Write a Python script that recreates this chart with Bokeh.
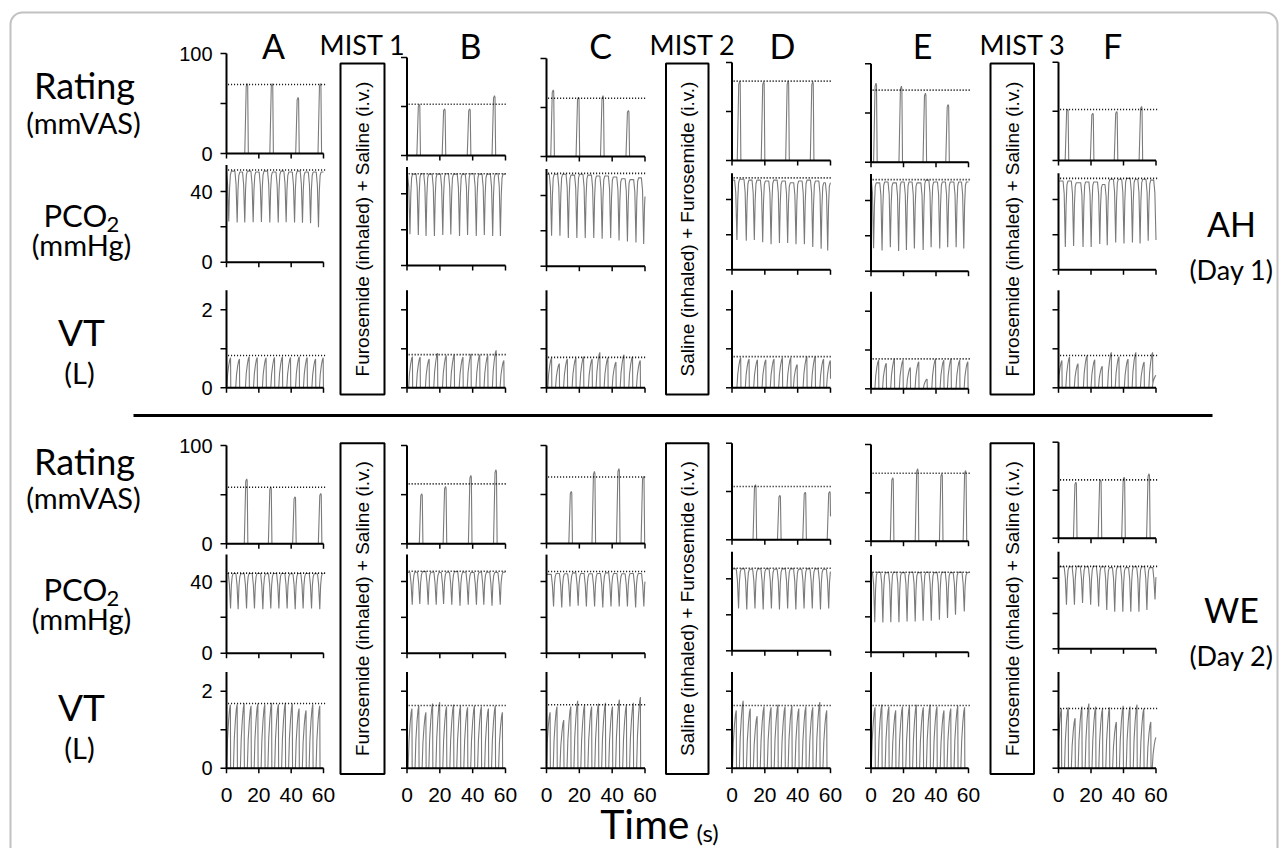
import numpy as np
from bokeh.plotting import figure
from bokeh.models import Range1d, BoxAnnotation
from bokeh.core.properties import value
from bokeh.embed import file_html
from bokeh.resources import INLINE

# ---------------- data ----------------
columns = ["A", "B", "C", "D", "E", "F"]
x_ticks = [0, 20, 40, 60]
x_tick_labels = ["0", "20", "40", "60"]
rating_ticks = [0, 50, 100]
rating_labels = ["0", "", "100"]
pco2_ticks = [0, 20, 40]
pco2_labels = ["0", "", "40"]
vt_ticks = [0, 1, 2]
vt_labels = ["0", "", "2"]

# Rating (mmVAS): peak times (s) and peak values, dotted reference level
ah_rating_t = {"A": [12.8, 28.3, 44.3, 58.1], "B": [7.5, 22.9, 38.2, 53.3], "C": [4.1, 19.5, 34.4, 49.9],
               "D": [4.7, 19.3, 34.2, 49.2], "E": [3.1, 18.7, 33.5, 47.5], "F": [5.6, 21.1, 35.8, 51.1]}
ah_rating_v = {"A": [70, 70, 56, 70], "B": [52, 47.6, 47.6, 61], "C": [68, 60.5, 62, 47],
               "D": [81, 80.5, 81, 80.5], "E": [80.3, 77.2, 70.1, 58.6], "F": [52.2, 48.1, 49.8, 54.9]}
ah_rating_ref = {"A": 69, "B": 52.3, "C": 59.5, "D": 81, "E": 73.2, "F": 51.9}
we_rating_t = {"A": [12.5, 27.4, 42.4, 58.3], "B": [9.0, 23.5, 38.9, 54.2], "C": [15.1, 29.2, 44.1, 59.1],
               "D": [14.3, 29.2, 44.6, 59.5], "E": [13.4, 28.7, 43.6, 58.2], "F": [10.7, 25.9, 40.4, 55.7]}
we_rating_v = {"A": [66, 57.6, 47.8, 51.2], "B": [50.8, 58.3, 69.5, 75.3], "C": [53.2, 73.5, 76.3, 68.5],
               "D": [57, 46, 49.3, 50], "E": [65.6, 74.9, 69.7, 73.1], "F": [58.3, 60.8, 63.5, 67.1]}
we_rating_ref = {"A": 57.6, "B": 61, "C": 67.8, "D": 55.2, "E": 70.3, "F": 60.8}

# PCO2 (mmHg): trough times, trough values, plateau values (one before each trough + last)
ah_pco2_t = {"A": [1.4, 6.6, 11.3, 16.5, 21.6, 26.8, 32.0, 36.9, 42.1, 47.0, 52.0, 56.9],
             "B": [1.8, 6.9, 11.6, 16.7, 21.8, 26.7, 32.0, 36.9, 42.2, 47.1, 52.2, 56.9],
             "C": [3.1, 8.2, 13.3, 18.5, 23.6, 28.8, 33.9, 39.1, 44.2, 49.3, 54.5, 59.2],
             "D": [3.0, 8.7, 13.6, 18.7, 23.8, 28.9, 33.9, 39.0, 44.1, 49.2, 54.3, 58.3],
             "E": [1.6, 6.8, 11.9, 17.0, 21.8, 26.7, 32.1, 37.0, 42.3, 47.2, 52.4, 57.1],
             "F": [4.2, 9.3, 15.1, 20.1, 25.4, 30.0, 35.2, 40.3, 45.5, 50.2, 55.2, 60.0]}
ah_pco2_low = {"A": [23, 22.5, 22.5, 22.6, 22.8, 22.5, 22.5, 22.6, 22.5, 22.3, 22.0, 19.8],
               "B": [17.5, 17, 16.5, 16.5, 17, 17.3, 16.5, 17, 16.5, 17, 16.5, 16.5],
               "C": [17.3, 17.3, 16, 16, 16, 16, 15.5, 16, 14.5, 14, 13.4, 12.6],
               "D": [17, 16.6, 17, 15.7, 14.5, 15.2, 15.2, 14.5, 14.5, 13, 12, 11],
               "E": [13, 11.7, 13.5, 11.5, 12, 12.8, 12, 13.5, 12.8, 13.5, 13.5, 12.8],
               "F": [13, 13.5, 13, 13, 14.7, 14, 15.5, 15, 15.5, 15, 16.6, 17]}
ah_pco2_high = {"A": [51, 51.5, 51, 51.5, 51, 51.5, 51, 51.5, 51, 51.5, 51, 51, 51],
                "B": [50.5, 51, 51.2, 51, 51, 51.2, 51, 51, 51.2, 51, 51, 51.2, 51],
                "C": [52, 52, 52, 51.5, 52, 51.5, 51, 51, 50.5, 49.5, 49, 50, 45],
                "D": [51, 51.5, 51, 51, 50.5, 51, 50.5, 49.5, 50.5, 51, 50.5, 49.5, 49.5],
                "E": [51.5, 50, 50.5, 50, 50.5, 50.5, 50, 51.5, 50.5, 50.5, 50.5, 50.5, 50.5],
                "F": [50.5, 50.5, 49.5, 50, 50, 48.5, 51.5, 51.5, 52, 51.5, 51.5, 51, 51]}
ah_pco2_ref = {"A": 52.2, "B": 51.2, "C": 52.5, "D": 52.3, "E": 51.8, "F": 52}
we_pco2_t = {"A": [2.5, 7.2, 12.4, 17.3, 22.5, 27.4, 32.4, 37.5, 42.5, 47.4, 52.6, 57.7],
             "B": [3.2, 7.8, 12.9, 17.8, 22.3, 27.3, 32.3, 37.3, 42.3, 46.8, 51.8, 56.8],
             "C": [4.3, 9.3, 14.3, 19.3, 24.3, 29.3, 34.3, 39.3, 44.3, 49.3, 54.3, 59.3],
             "D": [4.0, 9.0, 14.0, 19.0, 24.0, 28.9, 33.9, 38.9, 43.9, 48.9, 53.9, 58.9],
             "E": [2.3, 7.3, 12.2, 17.2, 22.2, 27.2, 32.1, 37.1, 42.1, 47.1, 52.0, 57.4],
             "F": [4.9, 9.8, 14.8, 19.8, 24.7, 29.7, 34.6, 39.6, 44.5, 49.5, 54.4, 59.4]}
we_pco2_low = {"A": [25, 24.5, 25, 25, 24.5, 25, 25, 25, 24.5, 25, 25, 24.5],
               "B": [27, 27.5, 27, 27, 27.5, 27, 26.5, 27, 27, 27, 26.5, 27],
               "C": [26, 25.5, 26, 26.5, 26, 26, 25.5, 26, 26, 26, 25.5, 26],
               "D": [23.5, 23, 23.5, 23, 23.5, 23, 23.5, 23, 23.5, 23.5, 23, 23.5],
               "E": [17, 16.8, 17, 17, 17.4, 17.4, 17.8, 17.8, 18.4, 19.3, 21.2, 23.1],
               "F": [25, 25, 26, 25, 24, 22, 21, 21, 21, 21, 22, 28]}
we_pco2_high = {"A": [44.5, 44.5, 44.3, 44.5, 44.5, 44.3, 44.5, 44.5, 44.3, 44.5, 44.5, 44.3, 44.5],
                "B": [45, 45.2, 45.5, 45.2, 45, 45.2, 45.5, 45.2, 45, 45.2, 45.2, 45, 45.2],
                "C": [44, 44.5, 44.3, 44.8, 44.5, 44.3, 44.5, 44.8, 44.5, 44.3, 44.5, 44.5, 44.5],
                "D": [45.5, 45.5, 45.3, 45.5, 45.5, 45.3, 45.5, 45.5, 45.3, 45.5, 45.5, 45.3, 45.5],
                "E": [45, 45.2, 45, 45.2, 45, 45.2, 45, 45.2, 45, 45.2, 45, 45.2, 45],
                "F": [46.5, 46.5, 46.8, 46.5, 46.8, 46.5, 46, 46.5, 46, 46.5, 46.5, 46, 46]}
we_pco2_ref = {"A": 44.7, "B": 45.7, "C": 45.6, "D": 45.9, "E": 45.2, "F": 46.7}

# VT (L): end-inspiratory peak times and tidal volumes, dotted reference level
ah_vt_t = {"A": [2.5, 8.0, 14.0, 19.0, 24.5, 29.7, 34.6, 39.6, 45.0, 49.9, 55.1, 59.8],
           "B": [3.3, 8.0, 13.5, 18.6, 23.9, 28.8, 34.1, 39.0, 44.3, 49.2, 54.3, 59.0],
           "C": [3.1, 7.8, 12.7, 17.9, 22.6, 27.8, 32.5, 37.4, 42.3, 47.2, 52.4, 57.1],
           "D": [5.3, 10.4, 15.5, 20.6, 25.6, 30.7, 35.8, 39.7, 45.6, 50.7, 55.8, 59.9],
           "E": [4.7, 9.4, 14.4, 19.7, 24.2, 29.4, 34.5, 39.7, 44.8, 49.3, 54.6, 59.6],
           "F": [2.1, 6.8, 12.0, 17.6, 22.3, 26.9, 32.5, 37.2, 42.8, 47.6, 52.7, 57.9, 60.0]}
ah_vt_v = {"A": [0.77, 0.74, 0.80, 0.78, 0.77, 0.78, 0.80, 0.78, 0.80, 0.78, 0.74, 0.77],
           "B": [0.80, 0.79, 0.74, 0.89, 0.83, 0.85, 0.79, 0.87, 0.85, 0.83, 0.96, 0.70],
           "C": [0.77, 0.62, 0.74, 0.77, 0.80, 0.74, 0.91, 0.77, 0.66, 0.85, 0.80, 0.70],
           "D": [0.77, 0.74, 0.72, 0.72, 0.74, 0.77, 0.77, 0.60, 0.80, 0.80, 0.74, 0.70],
           "E": [0.74, 0.66, 0.77, 0.74, 0.55, 0.70, 0.25, 0.77, 0.74, 0.77, 0.74, 0.70],
           "F": [0.70, 0.79, 0.62, 0.83, 0.72, 0.55, 0.91, 0.80, 0.74, 0.91, 0.66, 0.91, 0.32]}
ah_vt_ref = {"A": 0.83, "B": 0.85, "C": 0.78, "D": 0.80, "E": 0.77, "F": 0.83}
we_vt_t = {"A": [2.4, 6.6, 10.9, 15.2, 19.4, 23.7, 27.9, 32.1, 36.4, 40.7, 44.9, 49.2, 53.4, 57.7],
           "B": [3.0, 7.2, 11.5, 15.6, 19.9, 24.1, 28.4, 32.6, 36.9, 41.1, 45.3, 49.6, 53.8, 58.1],
           "C": [2.2, 6.4, 10.5, 14.8, 19.0, 23.2, 27.5, 31.7, 35.9, 40.2, 44.4, 48.7, 52.9, 57.2],
           "D": [2.6, 6.8, 11.1, 15.3, 19.5, 23.8, 28.0, 32.3, 36.5, 40.7, 45.0, 49.2, 53.5, 57.7],
           "E": [2.5, 6.7, 11.0, 15.2, 19.4, 23.7, 27.9, 32.2, 36.4, 40.6, 44.9, 49.1, 53.4, 57.6],
           "F": [1.8, 6.0, 10.2, 14.4, 18.7, 22.9, 27.1, 31.4, 35.6, 39.8, 44.0, 48.3, 52.5, 56.8, 60.0]}
we_vt_v = {"A": [1.65, 1.66, 1.68, 1.62, 1.68, 1.66, 1.70, 1.66, 1.70, 1.68, 1.55, 1.50, 1.66, 1.62],
           "B": [1.55, 1.62, 1.45, 1.68, 1.72, 1.60, 1.65, 1.62, 1.58, 1.62, 1.60, 1.55, 1.62, 1.45],
           "C": [1.45, 1.60, 1.25, 1.60, 1.75, 1.65, 1.60, 1.68, 1.70, 1.60, 1.78, 1.65, 1.70, 1.85],
           "D": [1.50, 1.75, 1.55, 1.35, 1.60, 1.58, 1.65, 1.60, 1.62, 1.55, 1.60, 1.58, 1.72, 1.50],
           "E": [1.58, 1.65, 1.60, 1.50, 1.60, 1.62, 1.65, 1.58, 1.65, 1.60, 1.50, 1.55, 1.62, 1.58],
           "F": [1.55, 1.58, 1.30, 1.60, 1.68, 1.60, 1.55, 1.58, 1.20, 1.62, 1.60, 1.65, 1.55, 1.20, 0.8]}
we_vt_ref = {"A": 1.68, "B": 1.63, "C": 1.65, "D": 1.63, "E": 1.63, "F": 1.55}

mist_titles = ["MIST 1", "MIST 2", "MIST 3"]
mist_box_texts = ["Furosemide (inhaled) + Saline (i.v.)",
                  "Saline (inhaled) + Furosemide (i.v.)",
                  "Furosemide (inhaled) + Saline (i.v.)"]

# ---------------- layout (pixel geometry of the page) ----------------
W, H = 1286, 848
col_x = {"A": (226, 323), "B": (406.5, 505), "C": (546, 644.5), "D": (731.5, 830),
         "E": (870.5, 968), "F": (1058, 1155.5)}
row_geom = {
    ("AH", "rating"): {"A": (153, 53), "B": (155, 57), "C": (156, 58), "D": (160, 62), "E": (161.7, 63.3), "F": (160, 61.7)},
    ("AH", "pco2"): {"A": (261.7, 191), "B": (265, 193.3), "C": (265.7, 195), "D": (269.3, 199), "E": (270.7, 200), "F": (269.3, 199)},
    ("AH", "vt"): {"A": (387.3, 309.3), "B": (387.3, 309.3), "C": (387.3, 309.3), "D": (387.3, 309.3), "E": (388.3, 310.7), "F": (387.3, 309.3)},
    ("WE", "rating"): {"A": (543.3, 445), "B": (543.3, 445), "C": (543, 445), "D": (539.3, 442.7), "E": (540.7, 444), "F": (537.7, 441.7)},
    ("WE", "pco2"): {"A": (652.7, 581), "B": (652.7, 581), "C": (652.7, 581), "D": (650.3, 578.3), "E": (651.7, 581), "F": (648.3, 577.7)},
    ("WE", "vt"): {c: (767.7, 690.7) for c in columns},
}
row_ref = {"rating": 100, "pco2": 40, "vt": 2}
row_top = {"rating": 100, "pco2": 55, "vt": 2.5}
row_ticks = {"rating": (rating_ticks, rating_labels), "pco2": (pco2_ticks, pco2_labels), "vt": (vt_ticks, vt_labels)}

TRACE = "#7a7a7a"
LABEL_FONT = "Lato"
TICK_FONT = "Liberation Sans"

p = figure(width=W, height=H, x_range=Range1d(0, W), y_range=Range1d(H, 0),
           x_axis_type=None, y_axis_type=None, toolbar_location=None,
           output_backend="svg", min_border=0, outline_line_color=None)
p.background_fill_color = "white"


def clip(xs, ys):
    xs = np.asarray(xs, float)
    ys = np.asarray(ys, float)
    x_out = [0.0] + [x for x in xs if 0 < x < 60] + [60.0]
    return x_out, list(np.interp(x_out, xs, ys))


def rating_trace(times, peaks):
    xs, ys = [-5], [0]
    for t, v in zip(times, peaks):
        xs += [t - 1.5, t - 0.6, t, t + 0.3, t + 0.7]
        ys += [0, 0.96 * v, v, 0.97 * v, 0]
    xs.append(65); ys.append(0)
    return clip(xs, ys)


def pco2_trace(troughs, lows, highs):
    xs, ys = [-5], [highs[0]]
    for i, (t, v) in enumerate(zip(troughs, lows)):
        h0, h1 = highs[i], highs[i + 1]
        xs += [t - 1.4, t - 0.7, t, t + 0.5, t + 1.0, t + 1.6]
        ys += [h0, 0.86 * h0, v, v + 0.65 * (h1 - v), 0.96 * h1, h1]
    xs.append(65); ys.append(highs[-1])
    return clip(xs, ys)


def vt_trace(times, peaks):
    xs, ys = [-5], [0]
    for t, v in zip(times, peaks):
        xs += [t - 2.3, t - 1.8, t - 1.1, t - 0.5, t, t + 0.15]
        ys += [0, 0.45 * v, 0.75 * v, 0.93 * v, v, 0]
    xs.append(65); ys.append(0)
    return clip(xs, ys)


def draw_panel(half, row, col, xs, ys, ref):
    x0, x1 = col_x[col]
    y0, yr = row_geom[(half, row)][col]
    sp = p.subplot(x_source=Range1d(0, 60), y_source=Range1d(0, row_ref[row]),
                   x_target=Range1d(x0, x1), y_target=Range1d(y0, yr))
    # data trace
    sp.line(x=xs, y=ys, line_color=TRACE, line_width=1.1)
    # dotted reference
    sp.line(x=[1, 61], y=[ref, ref], line_color="black", line_width=1.6, line_dash="1 2")
    # axes
    ticks, labels = row_ticks[row]
    sp.segment(x0=[0, 0], y0=[0, 0], x1=[60, 0], y1=[0, row_top[row]], line_color="black", line_width=2)
    sp.ray(x=[0] * len(ticks), y=ticks, length=6, length_units="screen", angle=np.pi,
           line_color="black", line_width=1.5)
    sp.ray(x=x_ticks, y=[0] * len(x_ticks), length=5, length_units="screen", angle=-np.pi / 2,
           line_color="black", line_width=1.5)
    if col == "A":
        sp.text(x=[0] * len(ticks), y=ticks, text=labels, x_offset=-14, text_align="right",
                text_baseline="middle", text_font=value(TICK_FONT), text_font_size="20px", text_color="black")
    if half == "WE" and row == "vt":
        sp.text(x=x_ticks, y=[0] * len(x_ticks), text=x_tick_labels, y_offset=27, text_align="center",
                text_baseline="middle", text_font=value(TICK_FONT), text_font_size="21px", text_color="black")


data = {
    "AH": {"rating": (ah_rating_t, ah_rating_v, ah_rating_ref),
           "pco2": (ah_pco2_t, ah_pco2_low, ah_pco2_high, ah_pco2_ref),
           "vt": (ah_vt_t, ah_vt_v, ah_vt_ref)},
    "WE": {"rating": (we_rating_t, we_rating_v, we_rating_ref),
           "pco2": (we_pco2_t, we_pco2_low, we_pco2_high, we_pco2_ref),
           "vt": (we_vt_t, we_vt_v, we_vt_ref)},
}

for half in ["AH", "WE"]:
    for c in columns:
        t, v, ref = data[half]["rating"]
        xs, ys = rating_trace(t[c], v[c])
        draw_panel(half, "rating", c, xs, ys, ref[c])
        t, lo, hi, ref = data[half]["pco2"]
        xs, ys = pco2_trace(t[c], lo[c], hi[c])
        draw_panel(half, "pco2", c, xs, ys, ref[c])
        t, v, ref = data[half]["vt"]
        xs, ys = vt_trace(t[c], v[c])
        draw_panel(half, "vt", c, xs, ys, ref[c])


def txt(x, y, s, size, font=LABEL_FONT, align="center", angle=0.0):
    p.text(x=[x], y=[y], text=[s], text_font=value(font), text_font_size=f"{size}px",
           text_align=align, text_baseline="middle", angle=angle, text_color="black")


# column letters and MIST titles
letter_x = {"A": 273, "B": 470, "C": 600, "D": 782, "E": 922, "F": 1112}
for c in columns:
    txt(letter_x[c], 45, c, 34)
for s, x in zip(mist_titles, [362, 692, 1022]):
    txt(x, 44, s, 27)

# MIST boxes with rotated labels
box_x = [(340, 384), (665.5, 708), (990, 1033.5)]
for (bl, br), s in zip(box_x, mist_box_texts):
    for (bt, bb) in [(63, 394), (442.7, 773.5)]:
        p.quad(left=[bl], right=[br], top=[bt], bottom=[bb], fill_color=None,
               line_color="black", line_width=2)
        txt((bl + br) / 2, (bt + bb) / 2, s, 19, font=TICK_FONT, angle=np.pi / 2)

# left row labels (centre heights for the two subjects)
for (y_rating, y_vas, y_pco, y_sub, y_hg, y_vt, y_l) in [(84, 122, 214, 224, 243.5, 331, 371.5),
                                                           (460, 497, 588, 598, 618, 706, 746.5)]:
    txt(84, y_rating, "Rating", 36)
    txt(83, y_vas, "(mmVAS)", 29)
    txt(43, y_pco, "PCO", 31, align="left")
    txt(106, y_sub, "2", 22, align="left")
    txt(81, y_hg, "(mmHg)", 29)
    txt(81, y_vt, "VT", 37)
    txt(79, y_l, "(L)", 29)

# right group labels
txt(1231, 222.5, "AH", 34)
txt(1231, 269, "(Day 1)", 27)
txt(1231, 609, "WE", 34)
txt(1231, 655, "(Day 2)", 27)

# divider between subjects
p.line(x=[133, 1212], y=[415, 415], line_color="black", line_width=3)

# x-axis title
txt(689, 823, "Time", 41, align="right")
txt(696, 832, "(s)", 24, align="left")

# rounded frame
p.add_layout(BoxAnnotation(left=10, right=1277, top=12, bottom=900, fill_alpha=0,
                           line_color="#333333", line_width=2, border_radius=12))

open("out.html", "w").write(file_html(p, INLINE))
